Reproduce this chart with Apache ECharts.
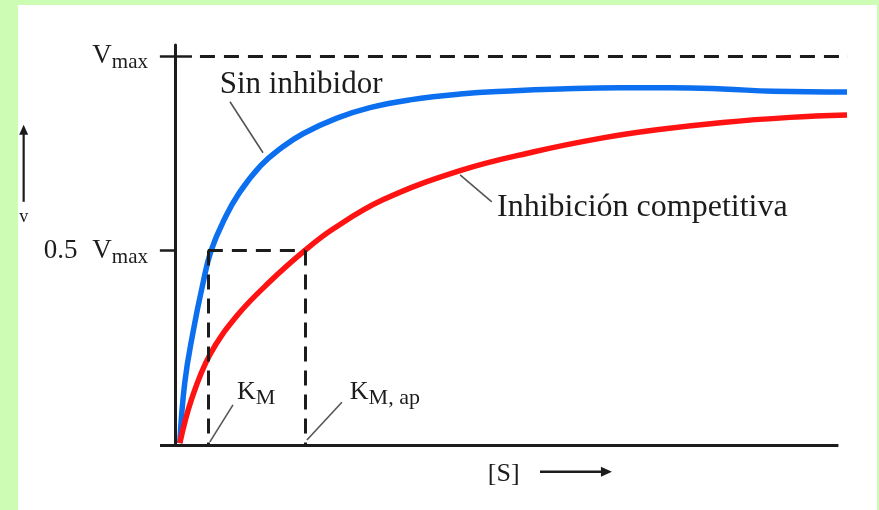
<!DOCTYPE html>
<html><head><meta charset="utf-8">
<script src="https://cdn.jsdelivr.net/npm/echarts@6/dist/echarts.min.js"></script>
<style>
html,body{margin:0;padding:0;width:879px;height:510px;background:#cdfdb4;overflow:hidden}
#paper{position:absolute;left:18px;top:5px;width:859px;height:505px;background:#fff}
#chart{position:absolute;left:0;top:0;width:879px;height:510px}
</style></head><body>
<div id="paper"></div><div id="chart"></div>
<script>
// Substrate concentration [S] (units of K_M) and velocity v (fraction of Vmax)
const blueS = [0.15, 0.30, 0.55, 0.85, 1.10, 1.50, 1.95, 2.60, 3.20, 3.88, 4.91, 5.91, 7.12, 8.64, 10.15, 11.67, 13.48, 15.0, 16.6, 18.12, 20.36];
const blueV = [0.005, 0.160, 0.290, 0.415, 0.50, 0.580, 0.648, 0.718, 0.762, 0.800, 0.840, 0.867, 0.887, 0.902, 0.910, 0.915, 0.918, 0.918, 0.915, 0.909, 0.907];
const redS = [0.15, 0.50, 1.06, 1.88, 2.88, 3.94, 4.79, 6.30, 8.64, 10.85, 12.88, 14.6, 16.6, 18.64, 20.36];
const redV = [0.005, 0.116, 0.232, 0.332, 0.420, 0.50, 0.555, 0.630, 0.705, 0.753, 0.788, 0.810, 0.829, 0.842, 0.848];
const yTicks = [0.5, 1];
const yTickLabels = ['{n|0.5} V{s|max}', 'V{s|max}'];
const KM = 1.0, KMap = 3.94, HALF = 0.5, VMAX = 1;
const X_MIN = -0.45, X_MAX = 20.39, X_AXIS_END = 20.1, Y_MAX = 1.028;

const ink = '#1c1c1c';
const serif = '"Liberation Serif", "Times New Roman", serif';
const chart = echarts.init(document.getElementById('chart'));

function seg(a, b, style) { return [{coord: a, lineStyle: style}, {coord: b}]; }
const dash = {type: [15, 9], width: 3, color: ink};
const solid = {type: 'solid', width: 3, color: ink};
const lead = {type: 'solid', width: 1.6, color: '#555'};

chart.setOption({
  animation: false,
  grid: {left: 160, right: 31, top: 45, bottom: 65},
  xAxis: {type: 'value', min: X_MIN, max: X_MAX, axisLine: {show: false, onZero: false},
    axisTick: {show: false}, axisLabel: {show: false}, splitLine: {show: false}},
  yAxis: {type: 'value', min: 0, max: Y_MAX,
    axisLine: {show: true, onZero: true, lineStyle: {color: ink, width: 3}},
    axisTick: {show: true, customValues: yTicks, length: 15, lineStyle: {color: ink, width: 2.5}},
    axisLabel: {show: true, customValues: yTicks, margin: 12, color: ink,
      formatter: v => yTickLabels[yTicks.indexOf(v)] || '',
      fontFamily: serif, fontSize: 27,
      rich: {s: {fontFamily: serif, fontSize: 21, color: ink, padding: [14, 0, 0, 0]},
             n: {fontFamily: serif, fontSize: 27, color: ink, padding: [0, 8, 0, 0]}}},
    splitLine: {show: false}},
  series: [
    {type: 'line', name: 'Sin inhibidor', data: blueS.map((s, i) => [s, blueV[i]]),
      smooth: 0.45, symbol: 'none', clip: false,
      lineStyle: {color: '#0b6ff0', width: 5.5},
      markLine: {silent: true, symbol: ['none', 'none'], label: {show: false}, animation: false,
        data: [
          seg([X_MIN, 0], [X_AXIS_END, 0], solid),
          seg([0, VMAX], [0.52, VMAX], {type: 'solid', width: 2.5, color: ink}),
          seg([0.76, VMAX], [X_MAX, VMAX], dash),
          seg([KM, HALF], [KMap, HALF], dash),
          seg([KM, HALF], [KM, 0], dash),
          seg([KMap, HALF], [KMap, 0], dash),
          seg([1.76, 0.103], [1.06, 0.008], lead),
          seg([5.06, 0.11], [4.0, 0.013], lead),
          seg([1.67, 0.882], [2.67, 0.751], lead),
          seg([8.64, 0.694], [9.6, 0.625], lead)
        ]}},
    {type: 'line', name: 'Inhibición competitiva', data: redS.map((s, i) => [s, redV[i]]),
      smooth: 0.4, symbol: 'none', clip: false,
      lineStyle: {color: '#ff1212', width: 5.5}}
  ]
});

function P(x, y) { return chart.convertToPixel({gridIndex: 0}, [x, y]); }
function txt(x, y, text, size, rich, align) {
  const p = P(x, y);
  return {type: 'text', x: p[0], y: p[1], silent: true,
    style: {text: text, fill: ink, font: size + 'px ' + serif, verticalAlign: 'middle', align: align || 'left', rich: rich}};
}
const subRich = {k: {fontFamily: serif, fontSize: 26, fill: ink, color: ink},
  m: {fontFamily: serif, fontSize: 22, fill: ink, color: ink, padding: [12, 0, 0, 0]}};
const a0 = P(11.06, -0.069), a1 = P(13.24, -0.069);
const v0 = P(-4.58, 0.625), v1 = P(-4.58, 0.823);
chart.setOption({graphic: [
  txt(1.36, 0.925, 'Sin inhibidor', 31),
  txt(9.76, 0.609, 'Inhibición competitiva', 32),
  txt(1.88, 0.136, '{k|K}{m|M}', 26, subRich),
  txt(5.3, 0.136, '{k|K}{m|M, ap}', 26, subRich),
  txt(9.48, -0.075, '[S]', 26),
  txt(-4.58, 0.584, 'v', 18, null, 'center'),
  {type: 'line', silent: true, shape: {x1: a0[0], y1: a0[1], x2: a1[0] - 6, y2: a1[1]}, style: {stroke: ink, lineWidth: 2.5}},
  {type: 'polygon', silent: true, shape: {points: [[a1[0], a1[1]], [a1[0] - 11, a1[1] - 5], [a1[0] - 11, a1[1] + 5]]}, style: {fill: ink}},
  {type: 'line', silent: true, shape: {x1: v0[0], y1: v0[1], x2: v1[0], y2: v1[1] + 6}, style: {stroke: ink, lineWidth: 2.2}},
  {type: 'polygon', silent: true, shape: {points: [[v1[0], v1[1]], [v1[0] - 4.5, v1[1] + 10], [v1[0] + 4.5, v1[1] + 10]]}, style: {fill: ink}}
]});
</script>
</body></html>
